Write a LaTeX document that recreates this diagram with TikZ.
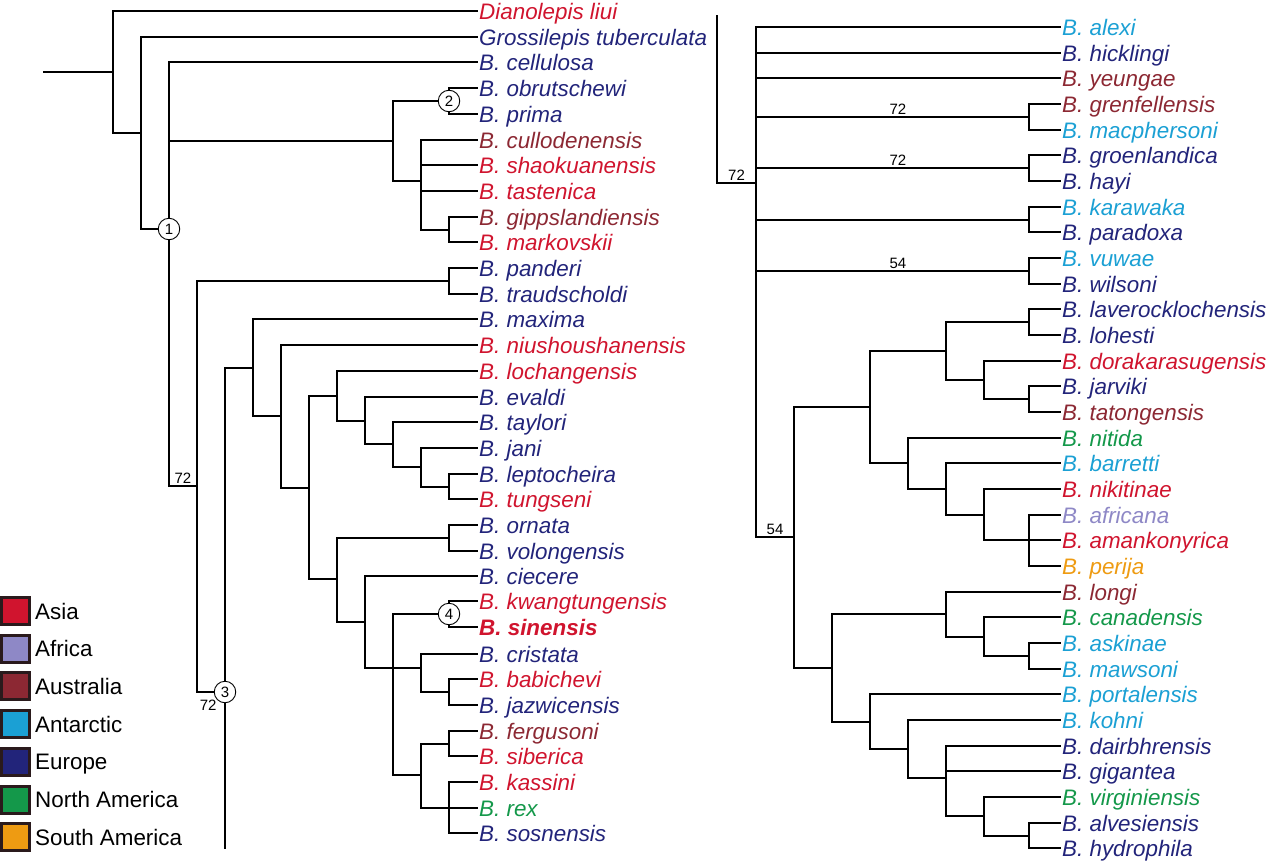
\documentclass[tikz,border=0pt]{standalone}
\usepackage{fontspec}
\setmainfont{Liberation Sans}
\definecolor{asia}{HTML}{D0142E}
\definecolor{africa}{HTML}{8E88C6}
\definecolor{australia}{HTML}{8C2833}
\definecolor{antarctic}{HTML}{1BA0D4}
\definecolor{europe}{HTML}{22247A}
\definecolor{namerica}{HTML}{14984A}
\definecolor{samerica}{HTML}{EE9B12}
\definecolor{legline}{HTML}{2A1A1C}
\tikzset{
  leaf/.style={anchor=west,inner xsep=1pt,inner ysep=0pt,text height=16pt,text depth=0pt,font=\fontsize{22.4}{26}\selectfont\itshape},
  branch/.style={line width=2.4pt},
  clade/.style={circle,draw,fill=white,line width=0.9pt,minimum size=21.5pt,inner sep=0pt,font=\fontsize{15}{15}\selectfont},
  boot/.style={inner sep=1pt,font=\fontsize{15}{15}\selectfont},
  legbox/.style={draw=legline,line width=3pt,minimum width=27.5pt,minimum height=27pt,inner sep=0pt},
  legtext/.style={anchor=west,inner sep=0pt,text height=16pt,text depth=0pt,font=\fontsize{22.4}{26}\selectfont},
}
\begin{document}
\begin{tikzpicture}[x=1pt,y=-1pt]
\useasboundingbox (0,0) rectangle (1269,865);

\foreach \nm/\y/\col/\txt in {L1/11/asia/Dianolepis liui, L2/37/europe/Grossilepis tuberculata,
  L3/62/europe/B. cellulosa, L4/88/europe/B. obrutschewi, L5/114/europe/B. prima,
  L6/140/australia/B. cullodenensis, L7/165/asia/B. shaokuanensis, L8/191/asia/B. tastenica,
  L9/217/australia/B. gippslandiensis, L10/242/asia/B. markovskii, L11/268/europe/B. panderi,
  L12/294/europe/B. traudscholdi, L13/319/europe/B. maxima, L14/345/asia/B. niushoushanensis,
  L15/371/asia/B. lochangensis, L16/397/europe/B. evaldi, L17/422/europe/B. taylori,
  L18/448/europe/B. jani, L19/474/europe/B. leptocheira, L20/499/asia/B. tungseni,
  L21/525/europe/B. ornata, L22/551/europe/B. volongensis, L23/576/europe/B. ciecere,
  L24/601/asia/B. kwangtungensis, L25/627/asia/{\bfseries B. sinensis}, L26/654/europe/B. cristata,
  L27/679/asia/B. babichevi, L28/705/europe/B. jazwicensis, L29/731/australia/B. fergusoni,
  L30/756/asia/B. siberica, L31/782/asia/B. kassini, L32/808/namerica/B. rex,
  L33/833/europe/B. sosnensis}
  \node[leaf,text=\col] (\nm) at (478,\y) {\txt};

\foreach \nm/\y/\col/\txt in {R1/27/antarctic/B. alexi, R2/53/europe/B. hicklingi,
  R3/78/australia/B. yeungae, R4/104/australia/B. grenfellensis, R5/130/antarctic/B. macphersoni,
  R6/155/europe/B. groenlandica, R7/181/europe/B. hayi, R8/207/antarctic/B. karawaka,
  R9/232/europe/B. paradoxa, R10/258/antarctic/B. vuwae, R11/284/europe/B. wilsoni,
  R12/309/europe/B. laverocklochensis, R13/335/europe/B. lohesti, R14/361/asia/B. dorakarasugensis,
  R15/386/europe/B. jarviki, R16/412/australia/B. tatongensis, R17/438/namerica/B. nitida,
  R18/463/antarctic/B. barretti, R19/489/asia/B. nikitinae, R20/515/africa/B. africana,
  R21/540/asia/B. amankonyrica, R22/566/samerica/B. perija, R23/592/australia/B. longi,
  R24/617/namerica/B. canadensis, R25/643/antarctic/B. askinae, R26/669/antarctic/B. mawsoni,
  R27/694/antarctic/B. portalensis, R28/720/antarctic/B. kohni, R29/746/europe/B. dairbhrensis,
  R30/771/europe/B. gigantea, R31/797/namerica/B. virginiensis, R32/823/europe/B. alvesiensis,
  R33/848/europe/B. hydrophila}
  \node[leaf,text=\col] (\nm) at (1061,\y) {\txt};

% left tree
\coordinate (root) at (43,72);
\coordinate (n113) at (113,72);
\coordinate (n141) at (141,133);
\coordinate (c1) at (169,229);
\coordinate (n393t) at (393,141);
\coordinate (c2) at (449,101);
\coordinate (n421t) at (421,181);
\coordinate (n449t) at (449,230);
\coordinate (n197) at (197,486);
\coordinate (n449p) at (449,281);
\coordinate (c3) at (225,692);
\coordinate (cont) at (225,849);
\coordinate (n253) at (253,368);
\coordinate (n281) at (281,416);
\coordinate (n309) at (309,488);
\coordinate (n337a) at (337,396);
\coordinate (n365a) at (365,421);
\coordinate (n393a) at (393,444);
\coordinate (n421a) at (421,467);
\coordinate (n449a) at (449,487);
\coordinate (n337b) at (337,579);
\coordinate (n449b) at (449,538);
\coordinate (n365b) at (365,622);
\coordinate (n393b) at (393,668);
\coordinate (c4) at (449,614);
\coordinate (n421b) at (421,668);
\coordinate (n449c) at (449,692);
\coordinate (n421c) at (421,775);
\coordinate (n449d) at (449,744);
\coordinate (n449e) at (449,808);

\draw[branch] (root)--(n113);
\foreach \p/\ch in {n113/L1, n113/n141, n141/L2, n141/c1, c1/L3, c1/n393t, n393t/c2, n393t/n421t,
  c2/L4, c2/L5, n421t/L6, n421t/L7, n421t/L8, n421t/n449t, n449t/L9, n449t/L10, n197/n449p,
  n449p/L11, n449p/L12, c3/n253, c3/cont, n253/L13, n253/n281, n281/L14, n281/n309, n309/n337a,
  n309/n337b, n337a/L15, n337a/n365a, n365a/L16, n365a/n393a, n393a/L17, n393a/n421a, n421a/L18,
  n421a/n449a, n449a/L19, n449a/L20, n337b/n449b, n337b/n365b, n449b/L21, n449b/L22, n365b/L23,
  n365b/n393b, n393b/c4, n393b/n421b, n393b/n421c, c4/L24, c4/L25, n421b/L26, n421b/n449c,
  n449c/L27, n449c/L28, n421c/n449d, n421c/n449e, n449d/L29, n449d/L30, n449e/L31, n449e/L32,
  n449e/L33}
  \draw[branch] (\p) |- (\ch);
\draw[branch] (c1) |- (n197) node[boot,pos=.75,above] (b1) {72};
\draw[branch] (n197) |- (c3) node[boot,pos=.7,below=6pt] (b2) {72};

% right tree
\coordinate (rtop) at (717,15);
\coordinate (n756) at (756,183);
\coordinate (k4) at (1029,117);
\coordinate (k6) at (1029,168);
\coordinate (k8) at (1029,220);
\coordinate (k10) at (1029,271);
\coordinate (n794) at (794,537);
\coordinate (n870a) at (870,407);
\coordinate (n946a) at (946,351);
\coordinate (k12) at (1029,322);
\coordinate (n984a) at (984,380);
\coordinate (k15) at (1029,399);
\coordinate (n908a) at (908,463);
\coordinate (n946b) at (946,489);
\coordinate (n984b) at (984,515);
\coordinate (k20) at (1029,540);
\coordinate (n832) at (832,668);
\coordinate (n946c) at (946,614);
\coordinate (n984c) at (984,637);
\coordinate (k25) at (1029,656);
\coordinate (n870b) at (870,722);
\coordinate (n908b) at (908,749);
\coordinate (n946d) at (946,778);
\coordinate (n984d) at (984,816);
\coordinate (k32) at (1029,836);

\foreach \p/\ch in {n756/R1, n756/R2, n756/R3, n756/k8, k4/R4, k4/R5, k6/R6, k6/R7, k8/R8, k8/R9,
  k10/R10, k10/R11, n794/n870a, n794/n832, n870a/n946a, n870a/n908a, n946a/k12, n946a/n984a,
  k12/R12, k12/R13, n984a/R14, n984a/k15, k15/R15, k15/R16, n908a/R17, n908a/n946b, n946b/R18,
  n946b/n984b, n984b/R19, n984b/k20, k20/R20, k20/R21, k20/R22, n832/n946c, n832/n870b,
  n946c/R23, n946c/n984c, n984c/R24, n984c/k25, k25/R25, k25/R26, n870b/R27, n870b/n908b,
  n908b/R28, n908b/n946d, n946d/R29, n946d/R30, n946d/n984d, n984d/R31, n984d/k32, k32/R32,
  k32/R33}
  \draw[branch] (\p) |- (\ch);
\draw[branch] (rtop) |- (n756) node[boot,pos=.75,above] (b3) {72};
\draw[branch] (n756) |- (n794) node[boot,pos=.75,above] (b4) {54};
\draw[branch] (n756) |- (k4) node[boot,pos=.76,above] (b5) {72};
\draw[branch] (n756) |- (k6) node[boot,pos=.76,above] (b6) {72};
\draw[branch] (n756) |- (k10) node[boot,pos=.76,above] (b7) {54};

\node[clade] (o1) at (c1) {1};
\node[clade] (o2) at (c2) {2};
\node[clade] (o3) at (c3) {3};
\node[clade] (o4) at (c4) {4};

\foreach \i/\col/\txt in {0/asia/Asia, 1/africa/Africa, 2/australia/Australia, 3/antarctic/Antarctic,
  4/europe/Europe, 5/namerica/North America, 6/samerica/South America}
{
  \node[legbox,fill=\col] (box\i) at (15.25,611+37.7*\i) {};
  \node[legtext] (key\i) at (35,611+37.7*\i) {\txt};
}
\end{tikzpicture}
\end{document}
